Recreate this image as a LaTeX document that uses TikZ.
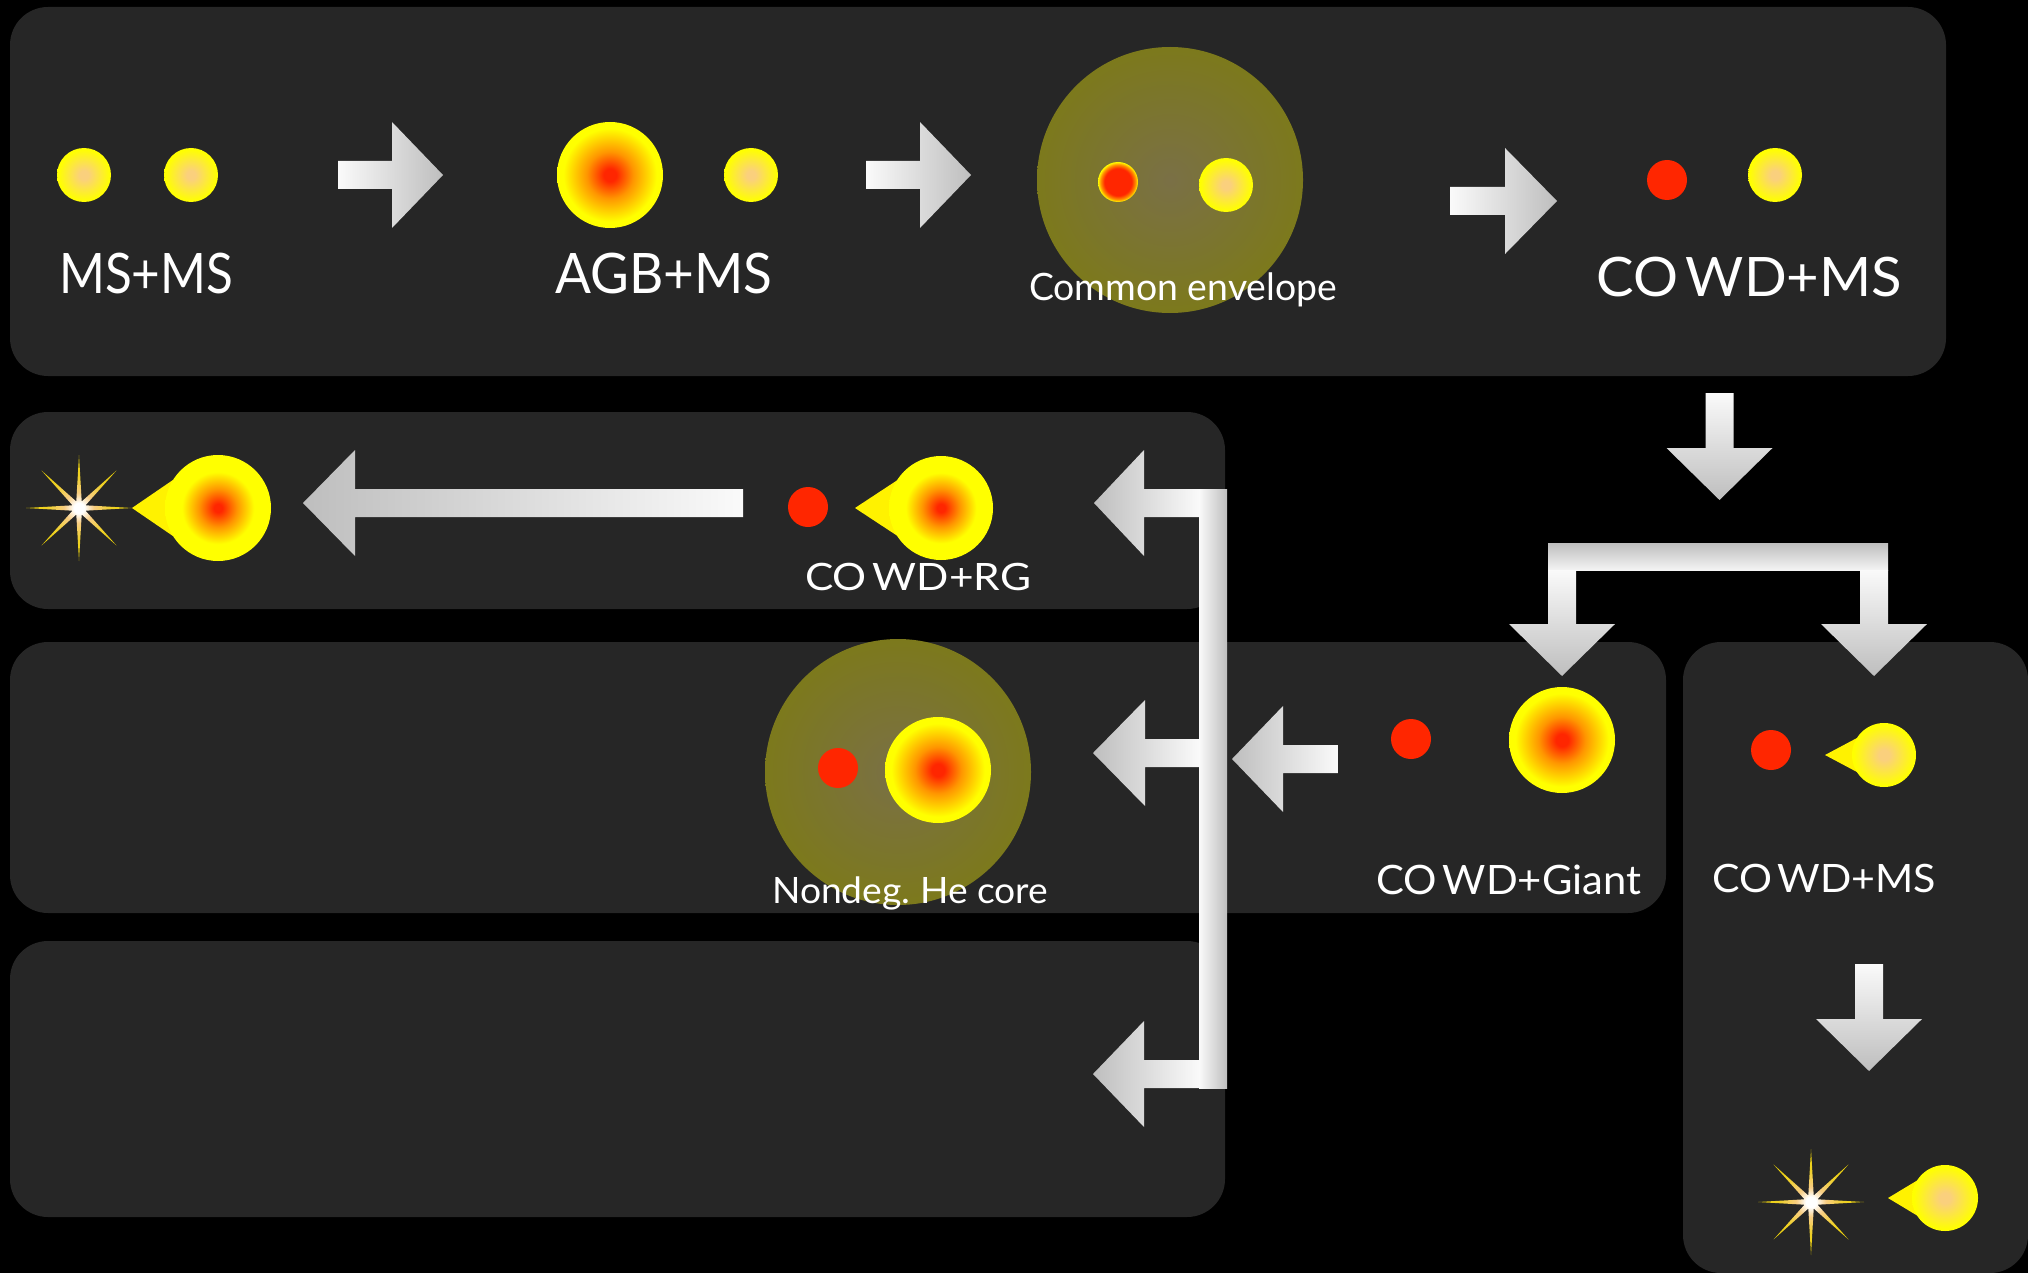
\documentclass[tikz,border=0pt]{standalone}
\usepackage{fontspec}
\setmainfont{Lato}
\usepackage{graphicx}
\usetikzlibrary{shapes.geometric,calc}

\definecolor{panelgray}{RGB}{38,38,38}
\definecolor{wdred}{RGB}{255,38,0}
\definecolor{starorange}{RGB}{255,150,0}
\definecolor{mscore}{RGB}{250,208,125}
\definecolor{arrowlight}{RGB}{250,250,250}
\definecolor{arrowdark}{RGB}{190,190,190}
\definecolor{envcore}{RGB}{122,112,70}
\definecolor{envedge}{RGB}{124,121,28}
\definecolor{burstmid}{RGB}{248,205,130}
\definecolor{bursttip}{RGB}{235,210,0}

% radial colour profiles (25bp = rim of the shaded circle)
\pgfdeclareradialshading{msshade}{\pgfpointorigin}{color(0bp)=(mscore); color(4bp)=(mscore); color(24bp)=(yellow); color(50bp)=(yellow)}
\pgfdeclareradialshading{giantshade}{\pgfpointorigin}{color(0bp)=(wdred); color(3bp)=(wdred); color(11bp)=(starorange); color(22bp)=(yellow); color(50bp)=(yellow)}
\pgfdeclareradialshading{rgshade}{\pgfpointorigin}{color(0bp)=(wdred); color(2bp)=(wdred); color(9bp)=(starorange); color(17bp)=(yellow); color(50bp)=(yellow)}
\pgfdeclareradialshading{wdrimshade}{\pgfpointorigin}{color(0bp)=(wdred); color(17bp)=(wdred); color(22bp)=(starorange); color(25bp)=(yellow); color(50bp)=(yellow)}
\pgfdeclareradialshading{envshade}{\pgfpointorigin}{color(0bp)=(envcore); color(25bp)=(envedge); color(50bp)=(envedge)}
\pgfdeclareradialshading{burstshade}{\pgfpointorigin}{color(0bp)=(white); color(2.5bp)=(white); color(7bp)=(burstmid); color(15bp)=(bursttip!70!burstmid); color(25bp)=(bursttip); color(50bp)=(bursttip)}

% scale a label horizontally to a given width, keeping its height
\newlength\fitlen
\newcommand\fitto[2]{\settowidth{\fitlen}{#2}\pgfmathsetmacro\fitratio{#1/\fitlen}\scalebox{\fitratio}[1]{#2}}
\newcommand\gap{\hspace{0.14em}}

% horizontal block arrow: style, shaft end, head base, tip, centre y
\newcommand\blockh[5]{\path[#1] (#2,#5-14) -- (#3,#5-14) -- (#3,#5-53) -- (#4,#5) -- (#3,#5+53) -- (#3,#5+14) -- (#2,#5+14) -- cycle;}
% vertical block arrow: style, centre x, shaft top, head base, tip
\newcommand\blockv[5]{\path[#1] (#2-14,#3) -- (#2-14,#4) -- (#2-53,#4) -- (#2,#5) -- (#2+53,#4) -- (#2+14,#4) -- (#2+14,#3) -- cycle;}
% star with a tidal tail: name, centre x, centre y, radius, tip x, shading
\newcommand\teardrop[6]{%
  \fill[yellow] (#5,#3) -- ($(#2,#3)+(148:#4)$) -- ($(#2,#3)+(212:#4)$) -- cycle;
  \node[circle, inner sep=0pt, minimum size=2*#4, shading=#6] (#1) at (#2,#3) {};}

\tikzset{
  panel/.style={fill=panelgray, rounded corners=38pt},
  body/.style={circle, inner sep=0pt, minimum size=2*#1},
  msstar/.style={body=#1, shading=msshade},
  giantstar/.style={body=#1, shading=giantshade},
  wdstar/.style={body=20, fill=wdred},
  wdrim/.style={body=20, shading=wdrimshade},
  envelope/.style={body=133, shading=envshade},
  burst/.style={star, star points=8, star point ratio=7.5, inner sep=0pt, minimum size=106, shading=burstshade},
  toright/.style={left color=arrowlight, right color=arrowdark},
  toleft/.style={left color=arrowdark, right color=arrowlight},
  todown/.style={top color=arrowlight, bottom color=arrowdark},
  lbl/.style={text=white, anchor=base west, inner sep=0pt},
}

\begin{document}
\frenchspacing
\begin{tikzpicture}[x=1pt, y=-1pt]
\fill[black] (0,0) rectangle (2028,1273);
\useasboundingbox (0,0) rectangle (2028,1273);

% panels
\fill[panel] (10,7) rectangle (1946,376);
\fill[panel] (10,412) rectangle (1225,609);
\fill[panel] (10,642) rectangle (1666,913);
\fill[panel] (10,941) rectangle (1225,1217);
\fill[panel] (1683,642) rectangle (2028,1273);

% envelopes
\node[envelope] (env1) at (1170,180) {};
\node[envelope] (env2) at (898,772) {};

% top row
\node[msstar=27] (ms1) at (84,175) {};
\node[msstar=27] (ms2) at (191,175) {};
\node[giantstar=53] (agb) at (610,175) {};
\node[msstar=27] (ms3) at (751,175) {};
\node[wdrim] (wd1) at (1118,182) {};
\node[msstar=27] (ms4) at (1226,185) {};
\node[wdstar] (wd2) at (1667,180) {};
\node[msstar=27] (ms5) at (1775,175) {};

\blockh{toright}{338}{392}{443}{175}
\blockh{toright}{866}{920}{971}{175}
\blockh{toright}{1450}{1505}{1557}{201}

% second row
\node[burst] (burst1) at (79,508) {};
\teardrop{rg1}{218}{508}{53}{132}{rgshade}
\node[wdstar] (wd3) at (808,507) {};
\teardrop{rg2}{941}{508}{52}{855}{rgshade}
\blockh{toleft}{743}{355}{303}{503}

% third row
\node[wdstar] (wd4) at (838,768) {};
\node[giantstar=53] (giant2) at (938,770) {};
\node[wdstar] (wd5) at (1411,739) {};
\node[giantstar=53] (giant3) at (1562,740) {};
\blockh{toleft}{1338}{1283}{1232}{759}

% right column
\node[wdstar] (wd6) at (1771,750) {};
\teardrop{ms6}{1884}{755}{32}{1825}{msshade}
\node[burst] (burst2) at (1811,1202) {};
\teardrop{ms7}{1945}{1198}{33}{1888}{msshade}
\blockv{todown}{1869}{964}{1019}{1071}

% branching from the top row
\blockv{todown}{1719.5}{393}{448}{500}
\path[top color=arrowdark, bottom color=arrowlight!90!arrowdark] (1548,543) rectangle (1888,570);
\blockv{todown}{1562}{570}{624}{676}
\blockv{todown}{1874}{570}{624}{676}

% distribution bar on the left
\blockh{toleft}{1199}{1144}{1094}{503}
\blockh{toleft}{1199}{1145}{1093}{753}
\blockh{toleft}{1199}{1144}{1093}{1074}
\path[left color=arrowlight, right color=arrowdark] (1199,489) rectangle (1227,1088);

% labels
\node[lbl, font=\fontsize{55.8}{60}\selectfont] (tmsms) at (59,294) {\fitto{174}{MS+MS}};
\node[lbl, font=\fontsize{55.8}{60}\selectfont] (tagbms) at (555,294) {\fitto{217}{AGB+MS}};
\node[lbl, font=\fontsize{37.7}{40}\selectfont] (tce) at (1029,300) {\fitto{308}{Common envelope}};
\node[lbl, font=\fontsize{54.4}{60}\selectfont] (twdms) at (1596,296) {\fitto{306}{CO\gap WD+MS}};
\node[lbl, font=\fontsize{37.7}{40}\selectfont] (twdrg) at (805,590) {\fitto{226}{CO\gap WD+RG}};
\node[lbl, font=\fontsize{36.3}{40}\selectfont] (the) at (772,903) {\fitto{276}{Nondeg.\ He core}};
\node[lbl, font=\fontsize{40.5}{44}\selectfont] (twdg) at (1376,894) {\fitto{265}{CO\gap WD+Giant}};
\node[lbl, font=\fontsize{39.1}{42}\selectfont] (twdms2) at (1712,892) {\fitto{224}{CO\gap WD+MS}};
\end{tikzpicture}
\end{document}
